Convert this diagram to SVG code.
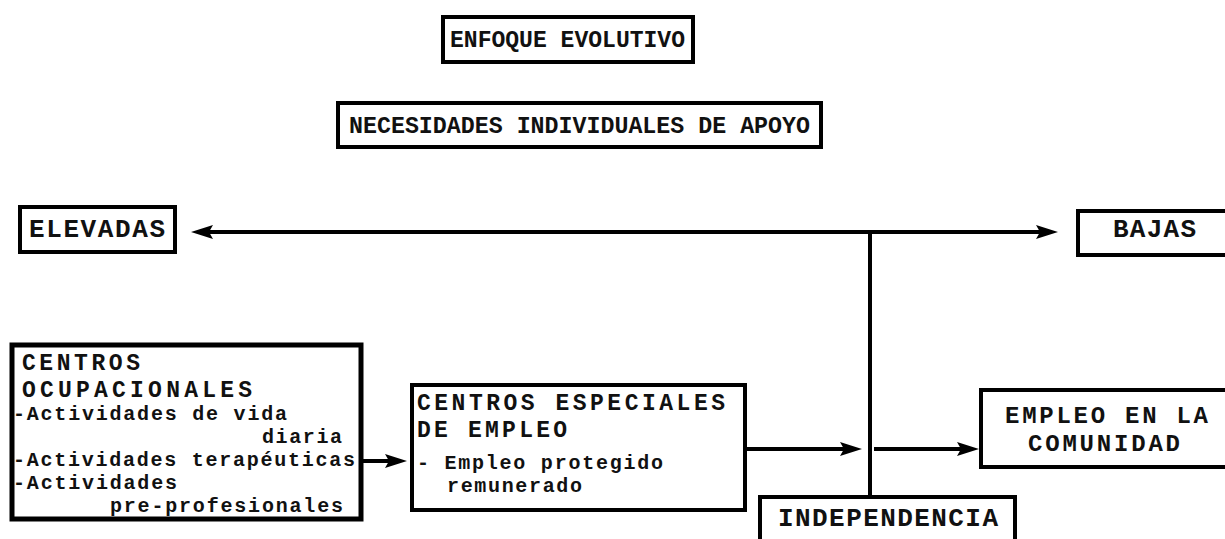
<svg xmlns="http://www.w3.org/2000/svg" width="1225" height="539" viewBox="0 0 1225 539">
<style>
.box{fill:#fff;stroke:#000;stroke-width:4}
.t{font-family:"Liberation Mono","DejaVu Sans Mono",monospace;font-weight:bold;fill:#111}
.h{font-size:26px}
.k{font-size:23px}
.m{font-size:24px}
.b{font-size:20px}
.c{fill:none;stroke:#000;stroke-width:4}
</style>
<defs>
<marker id="ah" markerUnits="userSpaceOnUse" markerWidth="24" markerHeight="16" refX="10" refY="7" orient="auto-start-reverse">
<path d="M0,0 L22,7 L0,14 L4,7 z" fill="#000"/>
</marker>
</defs>
<rect width="1225" height="539" fill="#fff"/>
<g id="connectors">
<line class="c" x1="203" y1="232" x2="1046" y2="232" marker-start="url(#ah)" marker-end="url(#ah)"/>
<line class="c" x1="870" y1="232" x2="870" y2="497"/>
<line class="c" x1="361" y1="461" x2="395" y2="461" marker-end="url(#ah)"/>
<line class="c" x1="745" y1="449" x2="850" y2="449" marker-end="url(#ah)"/>
<line class="c" x1="874" y1="449" x2="967" y2="449" marker-end="url(#ah)"/>
</g>
<g id="enfoque">
<rect class="box" x="443" y="17" width="250" height="45"/>
<text class="t m" x="450" y="47" textLength="235" lengthAdjust="spacingAndGlyphs">ENFOQUE EVOLUTIVO</text>
</g>
<g id="necesidades">
<rect class="box" x="338" y="103" width="483" height="44"/>
<text class="t m" x="349" y="133" textLength="461" lengthAdjust="spacingAndGlyphs">NECESIDADES INDIVIDUALES DE APOYO</text>
</g>
<g id="elevadas">
<rect class="box" x="20" y="207" width="155" height="45"/>
<text class="t h" x="29" y="237" textLength="136" lengthAdjust="spacing">ELEVADAS</text>
</g>
<g id="bajas">
<rect class="box" x="1078" y="211" width="160" height="44"/>
<text class="t h" x="1113" y="237" textLength="83" lengthAdjust="spacing">BAJAS</text>
</g>
<g id="centros-ocupacionales">
<rect class="box" x="12" y="345" width="349" height="174" style="stroke-width:5"/>
<text class="t k" x="22" y="370" textLength="118" lengthAdjust="spacing">CENTROS</text>
<text class="t k" x="22" y="397" textLength="230" lengthAdjust="spacing">OCUPACIONALES</text>
<text class="t b" x="13" y="420" textLength="274" lengthAdjust="spacing">-Actividades de vida</text>
<text class="t b" x="262" y="443" textLength="80" lengthAdjust="spacing">diaria</text>
<text class="t b" x="13" y="466" textLength="342" lengthAdjust="spacing">-Actividades terapéuticas</text>
<text class="t b" x="13" y="489" textLength="164" lengthAdjust="spacing">-Actividades</text>
<text class="t b" x="110" y="512" textLength="233" lengthAdjust="spacing">pre-profesionales</text>
</g>
<g id="centros-especiales">
<rect class="box" x="412" y="385" width="333" height="125"/>
<text class="t k" x="417" y="410" textLength="308" lengthAdjust="spacing">CENTROS ESPECIALES</text>
<text class="t k" x="417" y="437" textLength="150" lengthAdjust="spacing">DE EMPLEO</text>
<text class="t b" x="417" y="469" textLength="246" lengthAdjust="spacing">- Empleo protegido</text>
<text class="t b" x="447" y="492" textLength="135" lengthAdjust="spacing">remunerado</text>
</g>
<g id="empleo-comunidad">
<rect class="box" x="981" y="390" width="260" height="77"/>
<text class="t m" x="1005" y="423" textLength="203" lengthAdjust="spacing">EMPLEO EN LA</text>
<text class="t m" x="1028" y="451" textLength="152" lengthAdjust="spacing">COMUNIDAD</text>
</g>
<g id="independencia">
<rect class="box" x="760" y="497" width="255" height="60"/>
<text class="t h" x="778" y="526" textLength="220" lengthAdjust="spacing">INDEPENDENCIA</text>
</g>
</svg>
